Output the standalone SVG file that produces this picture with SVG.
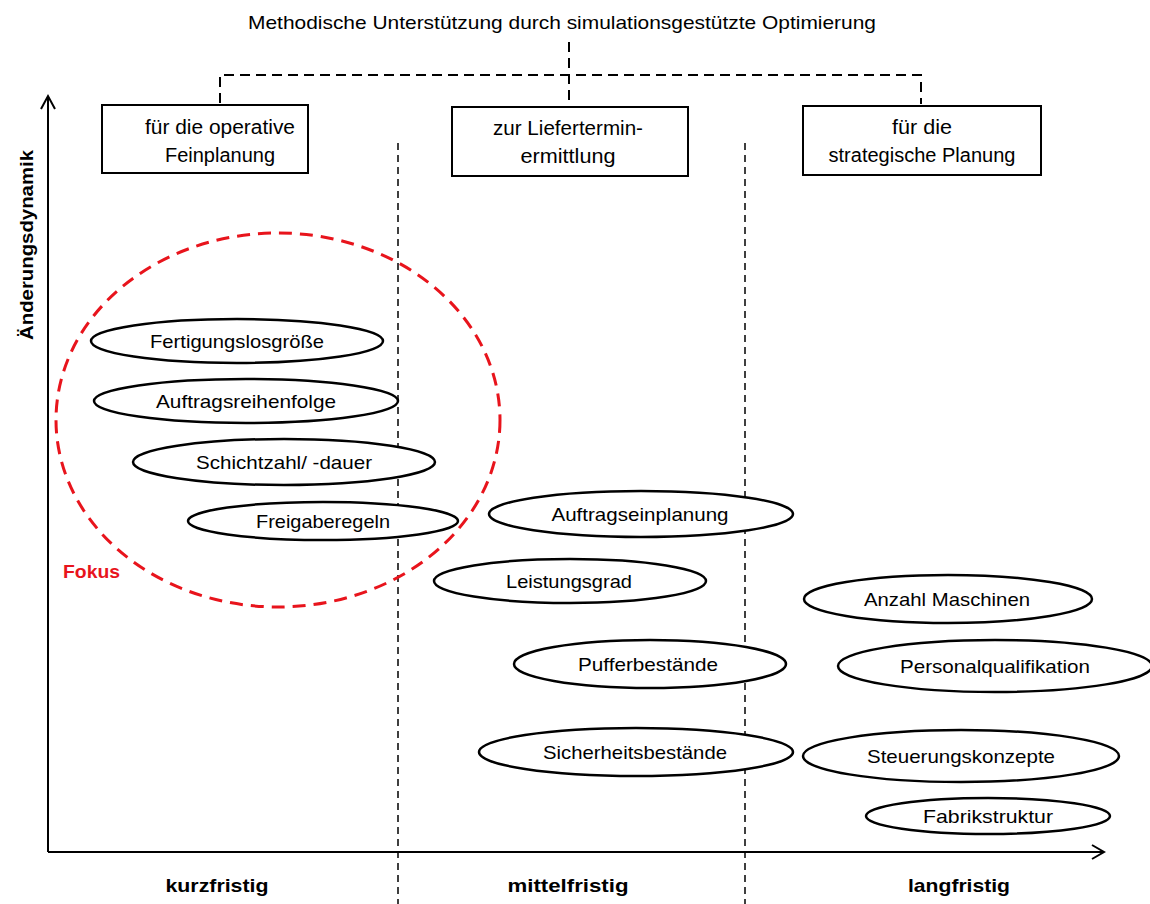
<svg xmlns="http://www.w3.org/2000/svg" width="1150" height="904" viewBox="0 0 1150 904">
  <style>
    text { font-family: "Liberation Sans", Arial, sans-serif; fill: #000; }
    .lbl { font-size: 19px; text-anchor: middle; }
    .head { font-size: 20px; text-anchor: middle; }
    .bold { font-weight: bold; }
    .box { fill: #fff; stroke: #000; stroke-width: 2; }
    .oval { fill: #fff; stroke: #000; stroke-width: 2.5; }
    .link { fill: none; stroke: #000; stroke-width: 2; stroke-dasharray: 10 6; }
    .sep { fill: none; stroke: #000; stroke-width: 1.5; stroke-dasharray: 7 5; }
    .axis { fill: none; stroke: #000; stroke-width: 2; }
    .focus { fill: none; stroke: #e8141c; stroke-width: 3; stroke-dasharray: 13 8; }
  </style>
  <rect width="1150" height="904" fill="#fff"/>

  <!-- title -->
  <text id="title" class="lbl" x="562" y="29" textLength="628" lengthAdjust="spacingAndGlyphs">Methodische Unterstützung durch simulationsgestützte Optimierung</text>

  <!-- connectors: title to the three planning levels, period separators, axes -->
  <g id="connectors">
    <path class="link" d="M569 42 V102"/>
    <path class="link" d="M220 103 V75 H921 V104"/>
    <path class="sep" d="M398 143 V904"/>
    <path class="sep" d="M745 143 V904"/>
    <path class="axis" d="M48 852 V96"/>
    <path class="axis" d="M41 109 L48 96 L55 109"/>
    <path class="axis" d="M48 852 H1104"/>
    <path class="axis" d="M1092 845 L1104 852 L1092 859"/>
  </g>

  <!-- planning levels -->
  <g id="level-operativ">
    <rect class="box" x="102" y="105" width="206" height="68"/>
    <text class="head" x="220" y="134" textLength="150" lengthAdjust="spacingAndGlyphs">für die operative</text>
    <text class="head" x="220" y="162" textLength="110" lengthAdjust="spacingAndGlyphs">Feinplanung</text>
  </g>
  <g id="level-liefertermin">
    <rect class="box" x="452" y="107" width="236" height="69"/>
    <text class="head" x="568" y="135" textLength="150" lengthAdjust="spacingAndGlyphs">zur Liefertermin-</text>
    <text class="head" x="568" y="163" textLength="95" lengthAdjust="spacingAndGlyphs">ermittlung</text>
  </g>
  <g id="level-strategisch">
    <rect class="box" x="803" y="106" width="238" height="69"/>
    <text class="head" x="922" y="134" textLength="60" lengthAdjust="spacingAndGlyphs">für die</text>
    <text class="head" x="922" y="162" textLength="187" lengthAdjust="spacingAndGlyphs">strategische Planung</text>
  </g>

  <!-- axis labels -->
  <text id="y-label" class="lbl bold" transform="translate(33 245) rotate(-90)" textLength="190" lengthAdjust="spacingAndGlyphs">Änderungsdynamik</text>
  <text id="x-kurz" class="lbl bold" x="217" y="892" textLength="103" lengthAdjust="spacingAndGlyphs">kurzfristig</text>
  <text id="x-mittel" class="lbl bold" x="568" y="892" textLength="121" lengthAdjust="spacingAndGlyphs">mittelfristig</text>
  <text id="x-lang" class="lbl bold" x="959" y="892" textLength="102" lengthAdjust="spacingAndGlyphs">langfristig</text>

  <!-- short-term parameters -->
  <g id="p-losgroesse">
    <ellipse class="oval" cx="237" cy="341" rx="146" ry="22"/>
    <text class="lbl" x="237" y="348" textLength="174" lengthAdjust="spacingAndGlyphs">Fertigungslosgröße</text>
  </g>
  <g id="p-reihenfolge">
    <ellipse class="oval" cx="246" cy="401" rx="152" ry="22"/>
    <text class="lbl" x="246" y="408" textLength="180" lengthAdjust="spacingAndGlyphs">Auftragsreihenfolge</text>
  </g>
  <g id="p-schicht">
    <ellipse class="oval" cx="284" cy="462" rx="151" ry="23"/>
    <text class="lbl" x="284" y="469" textLength="176" lengthAdjust="spacingAndGlyphs">Schichtzahl/ -dauer</text>
  </g>
  <g id="p-freigabe">
    <ellipse class="oval" cx="323" cy="521" rx="135" ry="19"/>
    <text class="lbl" x="323" y="528" textLength="134" lengthAdjust="spacingAndGlyphs">Freigaberegeln</text>
  </g>

  <!-- focus region -->
  <g id="focus">
    <ellipse class="focus" cx="278" cy="420" rx="222" ry="187"/>
    <text class="bold" x="63" y="578" font-size="19" textLength="57" lengthAdjust="spacingAndGlyphs" style="fill:#e8141c">Fokus</text>
  </g>

  <!-- mid-term parameters -->
  <g id="p-einplanung">
    <ellipse class="oval" cx="641" cy="514" rx="152" ry="23"/>
    <text class="lbl" x="640" y="521" textLength="177" lengthAdjust="spacingAndGlyphs">Auftragseinplanung</text>
  </g>
  <g id="p-leistungsgrad">
    <ellipse class="oval" cx="570" cy="581" rx="136" ry="22"/>
    <text class="lbl" x="569" y="588" textLength="126" lengthAdjust="spacingAndGlyphs">Leistungsgrad</text>
  </g>
  <g id="p-puffer">
    <ellipse class="oval" cx="650" cy="664" rx="136" ry="24"/>
    <text class="lbl" x="648" y="671" textLength="140" lengthAdjust="spacingAndGlyphs">Pufferbestände</text>
  </g>
  <g id="p-sicherheit">
    <ellipse class="oval" cx="636" cy="752" rx="157" ry="24"/>
    <text class="lbl" x="635" y="759" textLength="184" lengthAdjust="spacingAndGlyphs">Sicherheitsbestände</text>
  </g>

  <!-- long-term parameters -->
  <g id="p-maschinen">
    <ellipse class="oval" cx="948" cy="599" rx="144" ry="24"/>
    <text class="lbl" x="947" y="606" textLength="166" lengthAdjust="spacingAndGlyphs">Anzahl Maschinen</text>
  </g>
  <g id="p-personal">
    <ellipse class="oval" cx="995" cy="666" rx="157" ry="26"/>
    <text class="lbl" x="995" y="673" textLength="190" lengthAdjust="spacingAndGlyphs">Personalqualifikation</text>
  </g>
  <g id="p-steuerung">
    <ellipse class="oval" cx="961" cy="756" rx="158" ry="26"/>
    <text class="lbl" x="961" y="763" textLength="188" lengthAdjust="spacingAndGlyphs">Steuerungskonzepte</text>
  </g>
  <g id="p-fabrik">
    <ellipse class="oval" cx="988" cy="816" rx="122" ry="18"/>
    <text class="lbl" x="988" y="823" textLength="130" lengthAdjust="spacingAndGlyphs">Fabrikstruktur</text>
  </g>
</svg>
